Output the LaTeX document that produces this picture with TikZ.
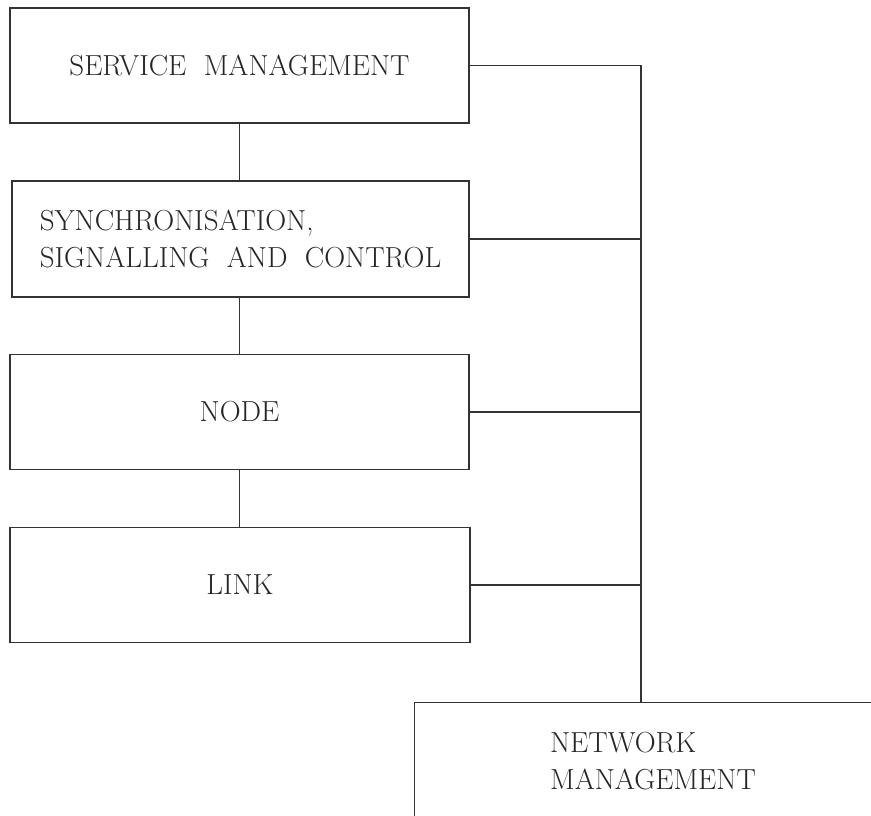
\documentclass[tikz,border=0pt]{standalone}
\begin{document}
\begin{tikzpicture}[x=1pt,y=-1pt,
  box/.style={draw=black!80, line width=1.3pt, rectangle, inner sep=0pt,
    minimum width=459pt, minimum height=115pt,
    font=\fontsize{29}{37}\selectfont, text=black!85},
  label/.style={inner sep=0pt, align=left,
    font=\fontsize{29}{37}\selectfont, text=black!85},
  wire/.style={draw=black!80, line width=1.3pt}]
\useasboundingbox (0,0) rectangle (871,815);

% layer stack
\node[box] (sm) at (239.5,65.5) {SERVICE\hspace{0.6em}MANAGEMENT};
\node[box, align=left, minimum width=457pt, minimum height=116pt] (ssc) at (240.5,239)
  {SYNCHRONISATION,\\SIGNALLING\hspace{0.6em}AND\hspace{0.6em}CONTROL};
\node[box] (nd) at (239.5,412) {NODE};
\node[box, minimum width=460pt] (lk) at (240,585) {LINK};

% network management box, running past the page edge
\node[box, anchor=north west, minimum width=480pt, minimum height=140pt] (nm) at (414,702) {};
\node[label] (nmtext) at (653,761) {NETWORK\\MANAGEMENT};
\coordinate (tap) at (641,702);

% links between adjacent layers
\draw[wire] (sm.south) -- (ssc.north -| sm.south);
\draw[wire] (ssc.south -| sm.south) -- (nd.north);
\draw[wire] (nd.south) -- (lk.north -| nd.south);

% management bus
\draw[wire] (sm.east) -- (sm.east -| tap) -- (tap);
\draw[wire] (ssc.east) -- (ssc.east -| tap);
\draw[wire] (nd.east) -- (nd.east -| tap);
\draw[wire] (lk.east) -- (lk.east -| tap);
\end{tikzpicture}
\end{document}
